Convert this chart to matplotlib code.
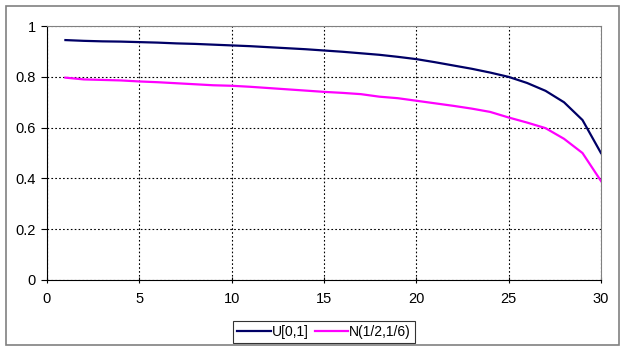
import numpy as np
import matplotlib.pyplot as plt
from matplotlib.patches import Rectangle

plt.rcParams['font.family'] = ['Liberation Sans', 'DejaVu Sans']

# values
n = list(range(1, 31))
u01 = [0.945, 0.942, 0.940, 0.939, 0.937, 0.935, 0.932, 0.930, 0.927, 0.924,
       0.921, 0.917, 0.913, 0.909, 0.904, 0.899, 0.893, 0.887, 0.879, 0.870,
       0.858, 0.845, 0.832, 0.817, 0.800, 0.776, 0.745, 0.700, 0.630, 0.500]
norm = [0.797, 0.790, 0.788, 0.786, 0.782, 0.779, 0.775, 0.771, 0.767, 0.765,
        0.761, 0.756, 0.751, 0.746, 0.741, 0.737, 0.732, 0.722, 0.716, 0.706,
        0.696, 0.686, 0.675, 0.662, 0.640, 0.620, 0.598, 0.556, 0.500, 0.390]
xticks = [0, 5, 10, 15, 20, 25, 30]
yticks = [0, 0.2, 0.4, 0.6, 0.8, 1]

fig = plt.figure(figsize=(6.26, 3.53), dpi=100)
ax = fig.add_axes([0.075, 0.207, 0.885, 0.719])

ax.plot(n, u01, color='#000066', lw=1.6, label='U[0,1]')
ax.plot(n, norm, color='#ff00ff', lw=1.6, label='N(1/2,1/6)')

ax.set_xlim(0, 30)
ax.set_ylim(0, 1)
ax.set_xticks(xticks)
ax.set_yticks(yticks)
ax.set_yticklabels(['0', '0.2', '0.4', '0.6', '0.8', '1'])
ax.grid(True, color='black', linestyle=(0, (1.5, 2)), linewidth=0.8)
ax.tick_params(axis='both', labelsize=10.5, length=4, width=0.8, colors='black')
ax.tick_params(axis='x', direction='inout', pad=7)
ax.tick_params(axis='y', direction='out', pad=4)
for s in ['top', 'right']:
    ax.spines[s].set_color('#808080')
for s in ['left', 'bottom']:
    ax.spines[s].set_color('black')

leg = ax.legend(loc='center', bbox_to_anchor=(0.518, 0.0595), bbox_transform=fig.transFigure,
                ncol=2, fontsize=10, frameon=True, fancybox=False, edgecolor='black',
                handlelength=2.4, handletextpad=0.1, columnspacing=0.4,
                borderpad=0.3, borderaxespad=0)
leg.get_frame().set_linewidth(0.8)

# chart area border
fig.patches.append(Rectangle((6 / 626, 1 - 345 / 353), 613 / 626, 339 / 353,
                             transform=fig.transFigure, fill=False,
                             edgecolor='#808080', linewidth=1.2))

fig.savefig('out.png', dpi=100)
